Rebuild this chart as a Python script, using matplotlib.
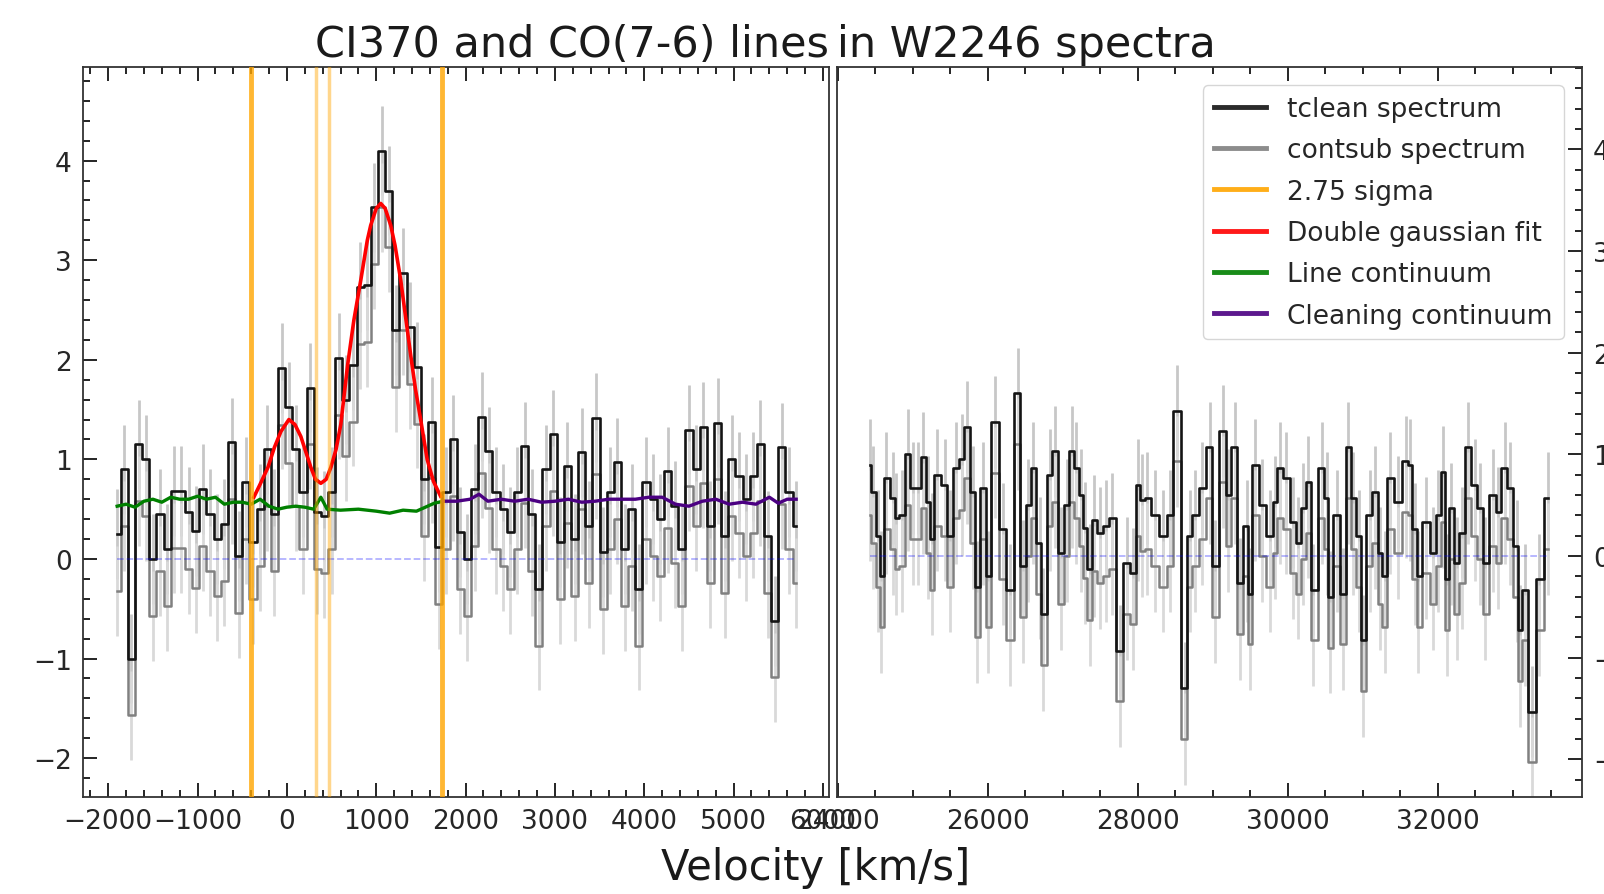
import numpy as np
import matplotlib.pyplot as plt
from matplotlib.ticker import MultipleLocator

# CI370 window: 80 km/s channels starting at -1900 km/s
left_v0 = -1900
left_dv = 80
left_tclean = [0.25, 0.9, -1.0, 1.15, 1.0, 0.0, 0.45, 0.1, 0.68, 0.68,
               0.47, 0.28, 0.7, 0.45, 0.2, 0.35, 1.17, 0.03, 0.77, 0.17,
               0.5, 1.1, 0.45, 1.92, 1.53, 1.1, 0.67, 1.72, 0.47, 0.43,
               0.67, 2.02, 1.6, 1.95, 2.73, 2.75, 3.53, 4.1, 3.7, 2.3,
               2.87, 2.33, 1.93, 0.8, 1.38, 0.12, 0.67, 1.2, 0.27, 0.0,
               0.7, 1.43, 1.08, 0.67, 0.5, 0.27, 0.67, 1.13, 0.45, -0.3,
               0.9, 1.25, 0.17, 0.93, 0.2, 1.07, 0.33, 1.42, 0.07, 0.67,
               0.97, 0.1, 0.5, -0.3, 0.77, 0.6, 0.4, 0.88, 0.53, 0.1,
               1.3, 0.9, 1.33, 0.33, 1.37, 0.23, 1.0, 0.83, 0.6, 0.83,
               1.15, 0.23, -0.62, 1.12, 0.67, 0.33]
left_cont_level = 0.57
left_err = 0.45

# CO(7-6) side window
right_vel = [24430, 24470, 24540, 24580, 24650, 24740, 24780, 24860, 24940, 25000,
             25070, 25140, 25200, 25250, 25320, 25430, 25490, 25580, 25650, 25720,
             25800, 25850, 25940, 26000, 26090, 26200, 26290, 26400, 26470, 26540,
             26600, 26690, 26740, 26830, 26890, 26980, 27050, 27120, 27180, 27240,
             27290, 27360, 27420, 27490, 27570, 27650, 27760, 27850, 27940, 28000,
             28060, 28120, 28230, 28340, 28430, 28520, 28630, 28690, 28760, 28860,
             28960, 29030, 29140, 29200, 29290, 29360, 29450, 29490, 29560, 29660,
             29760, 29830, 29890, 29980, 30070, 30140, 30200, 30270, 30340, 30450,
             30520, 30560, 30650, 30740, 30800, 30870, 30950, 31000, 31090, 31160,
             31230, 31290, 31360, 31470, 31580, 31630, 31690, 31740, 31840, 31940,
             32000, 32070, 32120, 32180, 32250, 32320, 32400, 32490, 32560, 32630,
             32740, 32800, 32890, 32960, 33050, 33090, 33160, 33250, 33350, 33470]
right_tclean = [0.9, 0.63, 0.2, -0.2, 0.77, 0.57, 0.37, 0.4, 1.0, 0.67,
                0.67, 0.97, 0.53, 0.17, 0.8, 0.7, 0.2, 0.87, 0.95, 1.27,
                0.63, -0.3, 0.67, -0.2, 1.32, 0.27, -0.33, 1.6, -0.1, 0.5,
                0.87, 0.13, -0.57, 0.8, 1.03, 0.03, 0.5, 1.03, 0.87, 0.6,
                0.28, -0.13, 0.35, 0.23, 0.3, 0.37, -0.93, -0.07, -0.17, 0.7,
                0.55, 0.57, 0.4, 0.2, 0.4, 1.43, -1.3, 0.2, 0.4, 0.67,
                1.07, -0.1, 1.23, 0.6, 1.07, -0.27, 0.3, -0.37, 0.9, 0.5,
                0.2, 0.53, 0.87, 0.77, 0.33, 0.13, 0.47, 0.73, -0.33, 0.87,
                0.57, -0.4, 0.4, -0.37, 1.07, 0.57, 0.2, -0.83, 0.4, 0.63,
                0.03, -0.2, 0.77, 0.53, 0.93, 0.9, 0.27, -0.2, 0.33, 0.03,
                0.4, 0.83, -0.23, 0.47, -0.07, 0.23, 1.07, 0.7, 0.47, -0.07,
                0.6, 0.43, 0.87, 0.67, 0.1, -0.73, -0.33, -1.53, -0.23, 0.57]
right_cont_level = 0.5
right_err = 0.45

# double gaussian fit
fit_vel = [-370, -300, -212, -140, -67, 22, 90, 156, 210, 268, 320, 380, 440,
           492, 550, 603, 680, 750, 827, 900, 938, 1000, 1050, 1100, 1162,
           1210, 1274, 1330, 1385, 1440, 1497, 1570, 1640, 1720]
fit_flux = [0.62, 0.75, 0.92, 1.12, 1.28, 1.4, 1.35, 1.23, 1.08, 0.92, 0.8,
            0.76, 0.8, 0.92, 1.1, 1.35, 1.95, 2.4, 2.8, 3.2, 3.35, 3.52, 3.57,
            3.52, 3.35, 3.15, 2.8, 2.42, 2.05, 1.7, 1.4, 1.0, 0.78, 0.63]

line_cont_vel = [-1900, -1800, -1700, -1600, -1500, -1400, -1300, -1200, -1100,
                 -1000, -900, -800, -700, -600, -500, -400, -300, -200, -100,
                 0, 100, 200, 300, 380, 450, 600, 800, 1000, 1150, 1300, 1450,
                 1550, 1650, 1750]
line_cont = [0.53, 0.55, 0.52, 0.58, 0.6, 0.57, 0.62, 0.6, 0.6, 0.63, 0.6,
             0.62, 0.55, 0.57, 0.57, 0.55, 0.6, 0.53, 0.5, 0.52, 0.53, 0.52,
             0.5, 0.62, 0.5, 0.49, 0.5, 0.48, 0.46, 0.49, 0.48, 0.52, 0.56,
             0.58]

clean_cont_vel = [1750, 1900, 2050, 2150, 2250, 2400, 2550, 2700, 2850, 3000,
                  3150, 3300, 3450, 3600, 3750, 3900, 4050, 4200, 4350, 4500,
                  4650, 4800, 4950, 5100, 5250, 5400, 5500, 5600, 5700]
clean_cont = [0.58, 0.58, 0.6, 0.65, 0.58, 0.6, 0.58, 0.6, 0.57, 0.58, 0.6,
              0.57, 0.58, 0.6, 0.6, 0.6, 0.62, 0.62, 0.55, 0.53, 0.58, 0.6,
              0.55, 0.57, 0.55, 0.62, 0.56, 0.6, 0.6]

sigma_edges = [-400, 325, 470, 1740]
sigma_strong = [True, False, False, True]


def draw_spectrum(ax, vel, flux, cont_level, err):
    vel = np.asarray(vel, dtype=float)
    flux = np.asarray(flux, dtype=float)
    sub = flux - cont_level
    ax.errorbar(vel, flux, yerr=err, fmt='none', ecolor='0.78',
                elinewidth=2.0, zorder=1)
    ax.errorbar(vel, sub, yerr=err, fmt='none', ecolor='0.85',
                elinewidth=2.0, zorder=1)
    h_sub, = ax.step(vel, sub, where='mid', color='0.5', lw=1.8, zorder=2)
    h_tc, = ax.step(vel, flux, where='mid', color='0.08', lw=1.9, zorder=3)
    ax.plot([vel[0], vel[-1]], [0, 0], ls='--', color='blue', alpha=0.3,
            lw=1.3, zorder=4)
    return h_tc, h_sub


fig = plt.figure(figsize=(16.04, 8.95), dpi=100)
ax1 = fig.add_axes([0.0517, 0.1084, 0.4651, 0.8156])
ax2 = fig.add_axes([0.5218, 0.1084, 0.4645, 0.8156])

left_vel = left_v0 + left_dv * np.arange(len(left_tclean))
h_tc, h_sub = draw_spectrum(ax1, left_vel, left_tclean, left_cont_level, left_err)
draw_spectrum(ax2, right_vel, right_tclean, right_cont_level, right_err)

h_lc, = ax1.plot(line_cont_vel, line_cont, color='green', lw=2.4, zorder=5)
h_cc, = ax1.plot(clean_cont_vel, clean_cont, color='indigo', lw=2.4, zorder=5)
h_fit, = ax1.plot(fit_vel, fit_flux, color='red', lw=2.6, zorder=6)

for v, strong in zip(sigma_edges, sigma_strong):
    h_sig = ax1.axvline(v, color='orange', lw=3.5 if strong else 2.5,
                        alpha=0.8 if strong else 0.45, zorder=7)

ax1.set_xlim(-2283, 6067)
ax1.set_ylim(-2.39, 4.94)
ax2.set_xlim(23990, 33920)
ax2.set_ylim(-2.37, 4.81)

ax1.xaxis.set_major_locator(MultipleLocator(1000))
ax1.xaxis.set_minor_locator(MultipleLocator(200))
ax2.xaxis.set_major_locator(MultipleLocator(2000))
ax2.xaxis.set_minor_locator(MultipleLocator(500))
for ax in (ax1, ax2):
    ax.yaxis.set_major_locator(MultipleLocator(1))
    ax.yaxis.set_minor_locator(MultipleLocator(0.2))
    ax.tick_params(which='both', direction='in', top=True, labelsize=19,
                   pad=8, width=1.2, labelcolor='0.15')
    ax.tick_params(which='major', length=10)
    ax.tick_params(which='minor', length=5)
    for s in ax.spines.values():
        s.set_linewidth(1.3)
        s.set_color('0.2')

ax1.tick_params(which='both', left=True, right=False)
ax2.tick_params(which='both', left=False, right=True, labelleft=False,
                labelright=True)

ax1.set_title('CI370 and CO(7-6) lines', loc='right', fontsize=31, pad=8,
              color='0.1')
ax2.set_title('in W2246 spectra', loc='left', fontsize=31, pad=8,
              color='0.1')
fig.text(0.5087, 0.0168, 'Velocity [km/s]', ha='center', va='baseline',
         fontsize=30, color='0.1')

leg = ax2.legend([h_tc, h_sub, h_sig, h_fit, h_lc, h_cc],
                 ['tclean spectrum', 'contsub spectrum', '2.75 sigma',
                  'Double gaussian fit', 'Line continuum', 'Cleaning continuum'],
                 loc='upper right', fontsize=19, framealpha=0.8,
                 labelspacing=0.58, borderaxespad=0.7)
for line in leg.get_lines():
    line.set_linewidth(3.5)
    line.set_alpha(0.9)
for t in leg.get_texts():
    t.set_color('0.15')

fig.savefig('out.png', dpi=100)
